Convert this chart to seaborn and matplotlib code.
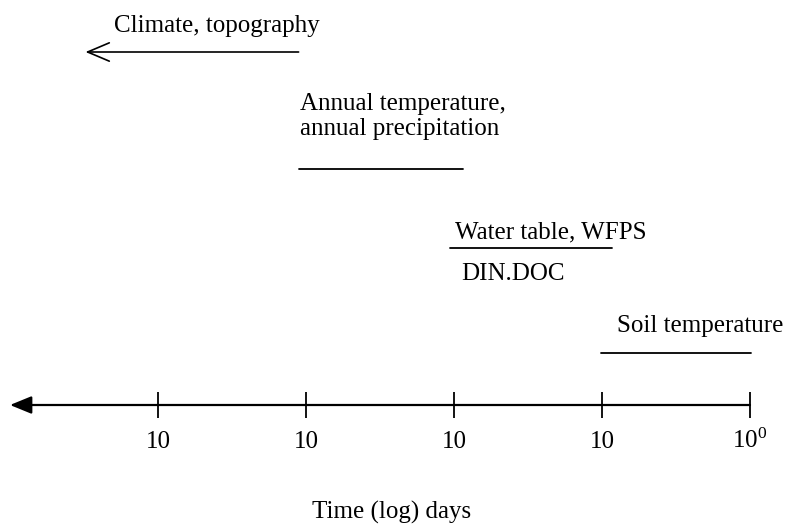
import matplotlib
matplotlib.use("Agg")
import matplotlib.pyplot as plt
import seaborn as sns

# time ranges on a log10(days) scale, longer times to the left
factors = [
    "Climate, topography",
    "Annual temperature,\nannual precipitation",
    "Water table, WFPS",
    "Soil temperature",
]
range_start = [-4.49, -3.05, -2.03, -1.01]
range_end = [-3.05, -1.94, -0.93, 0.01]
open_ended = [True, False, False, False]

extra_label = "DIN.DOC"

tick_pos = [-4, -3, -2, -1, 0]
tick_labels = ["10", "10", "10", "10", r"$\mathregular{10^0}$"]
axis_title = "Time (log) days"

# layout (pixel rows, top = 0); text y is the baseline of the last line
ROW_LINE = [52, 169, 248, 353]
ROW_TEXT = [32, 135, 238, 332]
TEXT_X = [-4.30, -3.04, -1.99, -0.90]
EXTRA_XY = (-1.95, 280)
AXIS_Y = 405
PX_PER_DECADE = 148.0
TITLE_X = (392 - 750) / PX_PER_DECADE

sns.set_theme(style="white")
plt.rcParams["font.family"] = ["Liberation Serif", "DejaVu Serif"]
plt.rcParams["mathtext.fontset"] = "custom"
plt.rcParams["mathtext.rm"] = "Liberation Serif"
plt.rcParams["text.color"] = "black"
FS = 18

fig = plt.figure(figsize=(7.85, 5.3), dpi=100)
ax = fig.add_axes([0, 0, 1, 1])
ax.set_xlim(-750 / PX_PER_DECADE, 35 / PX_PER_DECADE)
ax.set_ylim(530, 0)
ax.axis("off")

for i, name in enumerate(factors):
    y = ROW_LINE[i]
    if open_ended[i]:
        ax.annotate("", xy=(range_start[i], y), xytext=(range_end[i], y),
                    arrowprops=dict(arrowstyle="->,head_length=1.3,head_width=0.55",
                                    color="black", lw=1.2, shrinkA=0, shrinkB=0))
    else:
        sns.lineplot(x=[range_start[i], range_end[i]], y=[y, y], color="black",
                     linewidth=1.3, ax=ax, sort=False)
    ax.text(TEXT_X[i], ROW_TEXT[i], name, fontsize=FS, ha="left", va="baseline",
            linespacing=1.18, color="black")

ax.text(EXTRA_XY[0], EXTRA_XY[1], extra_label, fontsize=FS, ha="left",
        va="baseline", color="black")

# time axis with filled arrow head to the left
ax.annotate("", xy=(-740 / PX_PER_DECADE, AXIS_Y), xytext=(tick_pos[-1], AXIS_Y),
            arrowprops=dict(arrowstyle="-|>,head_length=1.1,head_width=0.45",
                            color="black", lw=1.6, shrinkA=0, shrinkB=0))
ax.vlines(tick_pos, AXIS_Y - 13, AXIS_Y + 13, color="black", linewidth=1.3)
for x, lab in zip(tick_pos, tick_labels):
    ax.text(x, 448, lab, fontsize=FS, ha="center", va="baseline", color="black")

ax.text(TITLE_X, 519, axis_title, fontsize=FS, ha="center", va="baseline",
        color="black")

fig.savefig("out.png", dpi=100)
